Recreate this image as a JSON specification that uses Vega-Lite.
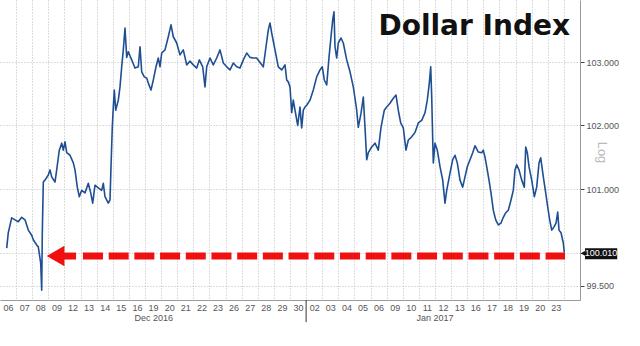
{
  "$schema": "https://vega.github.io/schema/vega-lite/v6.json",
  "width": 580,
  "height": 300,
  "autosize": {"type": "none"},
  "padding": {"left": 0, "top": 0, "right": 60, "bottom": 46},
  "background": "white",
  "config": {"view": {"stroke": null}},
  "resolve": {"axis": {"x": "independent", "y": "independent"}},
  "datasets": {
    "dxy": [
      {"t":0.416,"v":100.08},{"t":0.515,"v":100.32},{"t":0.726,"v":100.55},{"t":0.931,"v":100.52},{"t":1.136,"v":100.49},{"t":1.347,"v":100.56},{"t":1.552,"v":100.52},{"t":1.757,"v":100.36},{"t":1.968,"v":100.28},{"t":2.067,"v":100.21},{"t":2.278,"v":100.13},{"t":2.377,"v":100.10},{"t":2.526,"v":99.85},{"t":2.588,"v":99.43},{"t":2.626,"v":100.32},{"t":2.688,"v":101.11},{"t":2.793,"v":101.14},{"t":2.998,"v":101.22},{"t":3.103,"v":101.30},{"t":3.209,"v":101.19},{"t":3.414,"v":101.11},{"t":3.519,"v":101.30},{"t":3.681,"v":101.61},{"t":3.830,"v":101.72},{"t":3.929,"v":101.61},{"t":4.034,"v":101.74},{"t":4.140,"v":101.57},{"t":4.345,"v":101.53},{"t":4.550,"v":101.41},{"t":4.655,"v":101.30},{"t":4.798,"v":101.03},{"t":4.922,"v":100.88},{"t":5.071,"v":100.98},{"t":5.276,"v":100.94},{"t":5.481,"v":101.09},{"t":5.630,"v":100.94},{"t":5.754,"v":100.78},{"t":5.897,"v":101.06},{"t":6.101,"v":101.02},{"t":6.312,"v":100.98},{"t":6.412,"v":101.09},{"t":6.517,"v":100.88},{"t":6.722,"v":100.78},{"t":6.828,"v":100.83},{"t":6.890,"v":101.35},{"t":6.970,"v":101.97},{"t":7.032,"v":102.29},{"t":7.094,"v":102.56},{"t":7.181,"v":102.24},{"t":7.343,"v":102.40},{"t":7.448,"v":102.61},{"t":7.554,"v":102.93},{"t":7.653,"v":103.20},{"t":7.759,"v":103.55},{"t":7.864,"v":103.08},{"t":7.963,"v":103.17},{"t":8.174,"v":103.04},{"t":8.379,"v":102.91},{"t":8.584,"v":102.93},{"t":8.690,"v":103.25},{"t":8.795,"v":102.85},{"t":8.957,"v":102.77},{"t":9.106,"v":102.75},{"t":9.205,"v":102.67},{"t":9.372,"v":102.56},{"t":9.515,"v":102.72},{"t":9.683,"v":102.93},{"t":9.825,"v":103.07},{"t":9.931,"v":102.93},{"t":10.037,"v":103.15},{"t":10.241,"v":103.20},{"t":10.446,"v":103.41},{"t":10.614,"v":103.60},{"t":10.757,"v":103.41},{"t":10.968,"v":103.31},{"t":11.172,"v":103.12},{"t":11.377,"v":103.20},{"t":11.588,"v":102.96},{"t":11.793,"v":103.02},{"t":11.998,"v":102.96},{"t":12.209,"v":102.91},{"t":12.371,"v":103.04},{"t":12.582,"v":102.93},{"t":12.724,"v":102.61},{"t":12.830,"v":102.93},{"t":13.035,"v":103.07},{"t":13.239,"v":102.96},{"t":13.450,"v":103.07},{"t":13.655,"v":103.20},{"t":13.860,"v":102.99},{"t":14.071,"v":102.93},{"t":14.276,"v":102.88},{"t":14.481,"v":102.99},{"t":14.692,"v":102.93},{"t":14.897,"v":102.91},{"t":15.102,"v":103.04},{"t":15.313,"v":103.15},{"t":15.517,"v":103.08},{"t":15.722,"v":103.07},{"t":15.933,"v":103.07},{"t":16.138,"v":103.00},{"t":16.343,"v":102.93},{"t":16.510,"v":103.25},{"t":16.654,"v":103.52},{"t":16.759,"v":103.63},{"t":16.864,"v":103.47},{"t":17.069,"v":103.20},{"t":17.274,"v":102.93},{"t":17.485,"v":102.88},{"t":17.690,"v":102.96},{"t":17.795,"v":102.72},{"t":17.895,"v":102.69},{"t":18.000,"v":102.61},{"t":18.106,"v":102.20},{"t":18.205,"v":102.40},{"t":18.310,"v":102.24},{"t":18.478,"v":102.00},{"t":18.621,"v":102.29},{"t":18.726,"v":101.96},{"t":18.826,"v":102.24},{"t":18.931,"v":102.29},{"t":19.036,"v":102.32},{"t":19.241,"v":102.40},{"t":19.446,"v":102.56},{"t":19.657,"v":102.77},{"t":19.862,"v":102.88},{"t":20.005,"v":102.93},{"t":20.129,"v":102.72},{"t":20.278,"v":102.64},{"t":20.421,"v":103.08},{"t":20.545,"v":103.41},{"t":20.650,"v":103.68},{"t":20.731,"v":103.81},{"t":20.793,"v":103.25},{"t":20.899,"v":103.07},{"t":20.998,"v":103.31},{"t":21.166,"v":103.39},{"t":21.308,"v":103.31},{"t":21.520,"v":103.04},{"t":21.724,"v":102.85},{"t":21.929,"v":102.61},{"t":22.034,"v":102.43},{"t":22.140,"v":102.24},{"t":22.239,"v":101.97},{"t":22.407,"v":102.19},{"t":22.550,"v":102.45},{"t":22.655,"v":101.97},{"t":22.761,"v":101.46},{"t":22.860,"v":101.57},{"t":23.071,"v":101.66},{"t":23.276,"v":101.72},{"t":23.481,"v":101.61},{"t":23.649,"v":101.97},{"t":23.853,"v":102.24},{"t":24.002,"v":102.29},{"t":24.207,"v":102.35},{"t":24.412,"v":102.43},{"t":24.579,"v":102.48},{"t":24.722,"v":102.24},{"t":24.871,"v":102.04},{"t":25.033,"v":101.96},{"t":25.200,"v":101.61},{"t":25.343,"v":101.77},{"t":25.554,"v":101.82},{"t":25.759,"v":101.89},{"t":25.964,"v":102.04},{"t":26.175,"v":102.08},{"t":26.380,"v":102.20},{"t":26.522,"v":102.40},{"t":26.647,"v":102.67},{"t":26.734,"v":102.93},{"t":26.796,"v":102.45},{"t":26.858,"v":101.77},{"t":26.895,"v":101.41},{"t":27.000,"v":101.72},{"t":27.143,"v":101.61},{"t":27.311,"v":101.35},{"t":27.478,"v":101.14},{"t":27.621,"v":100.78},{"t":27.727,"v":100.98},{"t":27.931,"v":101.25},{"t":28.099,"v":101.46},{"t":28.241,"v":101.53},{"t":28.384,"v":101.41},{"t":28.552,"v":101.14},{"t":28.719,"v":101.03},{"t":28.862,"v":101.19},{"t":29.005,"v":101.35},{"t":29.173,"v":101.46},{"t":29.340,"v":101.57},{"t":29.483,"v":101.68},{"t":29.688,"v":101.58},{"t":29.899,"v":101.57},{"t":29.998,"v":101.61},{"t":30.104,"v":101.50},{"t":30.209,"v":101.35},{"t":30.352,"v":101.14},{"t":30.476,"v":100.94},{"t":30.619,"v":100.67},{"t":30.768,"v":100.52},{"t":30.929,"v":100.44},{"t":31.097,"v":100.47},{"t":31.239,"v":100.56},{"t":31.388,"v":100.63},{"t":31.550,"v":100.67},{"t":31.717,"v":100.83},{"t":31.860,"v":100.98},{"t":31.966,"v":101.30},{"t":32.071,"v":101.38},{"t":32.214,"v":101.30},{"t":32.382,"v":101.14},{"t":32.543,"v":101.03},{"t":32.630,"v":101.66},{"t":32.729,"v":101.57},{"t":32.835,"v":101.35},{"t":33.003,"v":101.14},{"t":33.164,"v":100.88},{"t":33.313,"v":101.03},{"t":33.456,"v":101.41},{"t":33.562,"v":101.49},{"t":33.723,"v":101.19},{"t":33.872,"v":100.94},{"t":33.996,"v":100.72},{"t":34.120,"v":100.52},{"t":34.245,"v":100.36},{"t":34.387,"v":100.41},{"t":34.511,"v":100.47},{"t":34.617,"v":100.64},{"t":34.697,"v":100.36},{"t":34.821,"v":100.32},{"t":34.964,"v":100.16},{"t":35.026,"v":100.01}
    ]
  },
  "layer": [
    {
      "data": {"name": "dxy"},
      "mark": {"type": "line", "color": "#1f4f93", "strokeWidth": 1.6, "strokeJoin": "round"},
      "encoding": {
        "x": {
          "field": "t", "type": "quantitative",
          "scale": {"domain": [0, 36], "nice": false, "zero": false},
          "axis": {
            "title": null,
            "values": [1,2,3,4,5,6,7,8,9,10,11,12,13,14,15,16,17,18,19,20,21,22,23,24,25,26,27,28,29,30,31,32,33,34,35],
            "labelExpr": "['06','07','08','09','12','13','14','15','16','19','20','21','22','23','26','27','28','29','30','02','03','04','05','06','09','10','11','12','13','16','17','18','19','20','23'][datum.value - 1]",
            "labelOffset": -8.06,
            "labelOverlap": false,
            "labelBound": false,
            "labelFlush": false,
            "labelFont": "Liberation Sans",
            "labelFontSize": 9,
            "labelColor": "#555555",
            "labelPadding": 3,
            "ticks": false,
            "domainColor": "#999999",
            "grid": true,
            "gridColor": "#bbbbbb",
            "gridDash": [1, 2],
            "gridWidth": 1
          }
        },
        "y": {
          "field": "v", "type": "quantitative",
          "scale": {"type": "log", "domain": [99.28, 104.0], "nice": false, "zero": false},
          "axis": {
            "orient": "right",
            "title": "Log",
            "titleAngle": 90,
            "titleX": 21,
            "titleY": 152,
            "titleAlign": "center",
            "titleBaseline": "middle",
            "titleFont": "Liberation Sans",
            "titleFontSize": 13,
            "titleFontWeight": "normal",
            "titleColor": "#bbbbbb",
            "values": [99.5, 100.01, 101, 102, 103],
            "labelExpr": "datum.value == 100.01 ? '' : format(datum.value, '.3f')",
            "labelOverlap": false,
            "labelFont": "Liberation Sans",
            "labelFontSize": 9,
            "labelColor": "#555555",
            "labelPadding": 2,
            "tickSize": 4,
            "tickColor": "#444444",
            "domainColor": "#999999",
            "grid": true,
            "gridColor": "#bbbbbb",
            "gridDash": [1, 2],
            "gridWidth": 1
          }
        }
      }
    },
    {
      "data": {"values": [{}]},
      "mark": {"type": "rule", "color": "#f01010", "strokeWidth": 7, "strokeCap": "butt"},
      "encoding": {
        "x": {"datum": 3.91, "type": "quantitative", "axis": null},
        "x2": {"datum": 4.72},
        "y": {"datum": 99.958, "type": "quantitative", "axis": null}
      }
    },
    {
      "data": {"values": [{}]},
      "mark": {"type": "rule", "color": "#f01010", "strokeWidth": 7, "strokeCap": "butt", "strokeDash": [20, 5.7]},
      "encoding": {
        "x": {"datum": 5.15, "type": "quantitative", "axis": null},
        "x2": {"datum": 35.07},
        "y": {"datum": 99.958, "type": "quantitative", "axis": null}
      }
    },
    {
      "data": {"values": [{}]},
      "mark": {"type": "point", "shape": "triangle-left", "filled": true, "color": "#f01010", "size": 420, "opacity": 1},
      "encoding": {
        "x": {"datum": 3.45, "type": "quantitative", "axis": null},
        "y": {"datum": 99.958, "type": "quantitative", "axis": null}
      }
    },
    {
      "data": {"values": [{}]},
      "mark": {"type": "rect", "color": "#111111"},
      "encoding": {
        "x": {"datum": 36.31, "type": "quantitative", "axis": null},
        "x2": {"datum": 38.31},
        "y": {"datum": 100.08, "type": "quantitative", "axis": null},
        "y2": {"datum": 99.91}
      }
    },
    {
      "data": {"values": [{}]},
      "mark": {"type": "point", "shape": "triangle-left", "filled": true, "color": "#111111", "size": 40, "opacity": 1},
      "encoding": {
        "x": {"datum": 36.22, "type": "quantitative", "axis": null},
        "y": {"datum": 100.0, "type": "quantitative", "axis": null}
      }
    },
    {
      "data": {"values": [{"label": "100.010"}]},
      "mark": {"type": "text", "color": "white", "font": "Liberation Sans", "fontSize": 9, "align": "center", "baseline": "middle"},
      "encoding": {
        "text": {"field": "label"},
        "x": {"datum": 37.31, "type": "quantitative", "axis": null},
        "y": {"datum": 100.0, "type": "quantitative", "axis": null}
      }
    },
    {
      "data": {"values": [{"month": "Dec 2016"}]},
      "mark": {"type": "text", "color": "#555555", "font": "Liberation Sans", "fontSize": 9, "align": "center", "baseline": "middle"},
      "encoding": {
        "text": {"field": "month"},
        "x": {"datum": 9.55, "type": "quantitative", "axis": null},
        "y": {"datum": 99.0, "type": "quantitative", "axis": null}
      }
    },
    {
      "data": {"values": [{"month": "Jan 2017"}]},
      "mark": {"type": "text", "color": "#555555", "font": "Liberation Sans", "fontSize": 9, "align": "center", "baseline": "middle"},
      "encoding": {
        "text": {"field": "month"},
        "x": {"datum": 27.0, "type": "quantitative", "axis": null},
        "y": {"datum": 99.0, "type": "quantitative", "axis": null}
      }
    },
    {
      "data": {"values": [{}]},
      "mark": {"type": "rule", "color": "#333333", "strokeWidth": 1},
      "encoding": {
        "x": {"datum": 19, "type": "quantitative", "axis": null},
        "y": {"datum": 99.28, "type": "quantitative", "axis": null},
        "y2": {"datum": 98.94}
      }
    },
    {
      "data": {"values": [{"title": "Dollar Index"}]},
      "mark": {"type": "text", "color": "#111111", "font": "DejaVu Sans", "fontWeight": "bold", "fontSize": 28, "align": "right", "baseline": "alphabetic"},
      "encoding": {
        "text": {"field": "title"},
        "x": {"datum": 35.38, "type": "quantitative", "axis": null},
        "y": {"datum": 103.44, "type": "quantitative", "axis": null}
      }
    }
  ]
}
